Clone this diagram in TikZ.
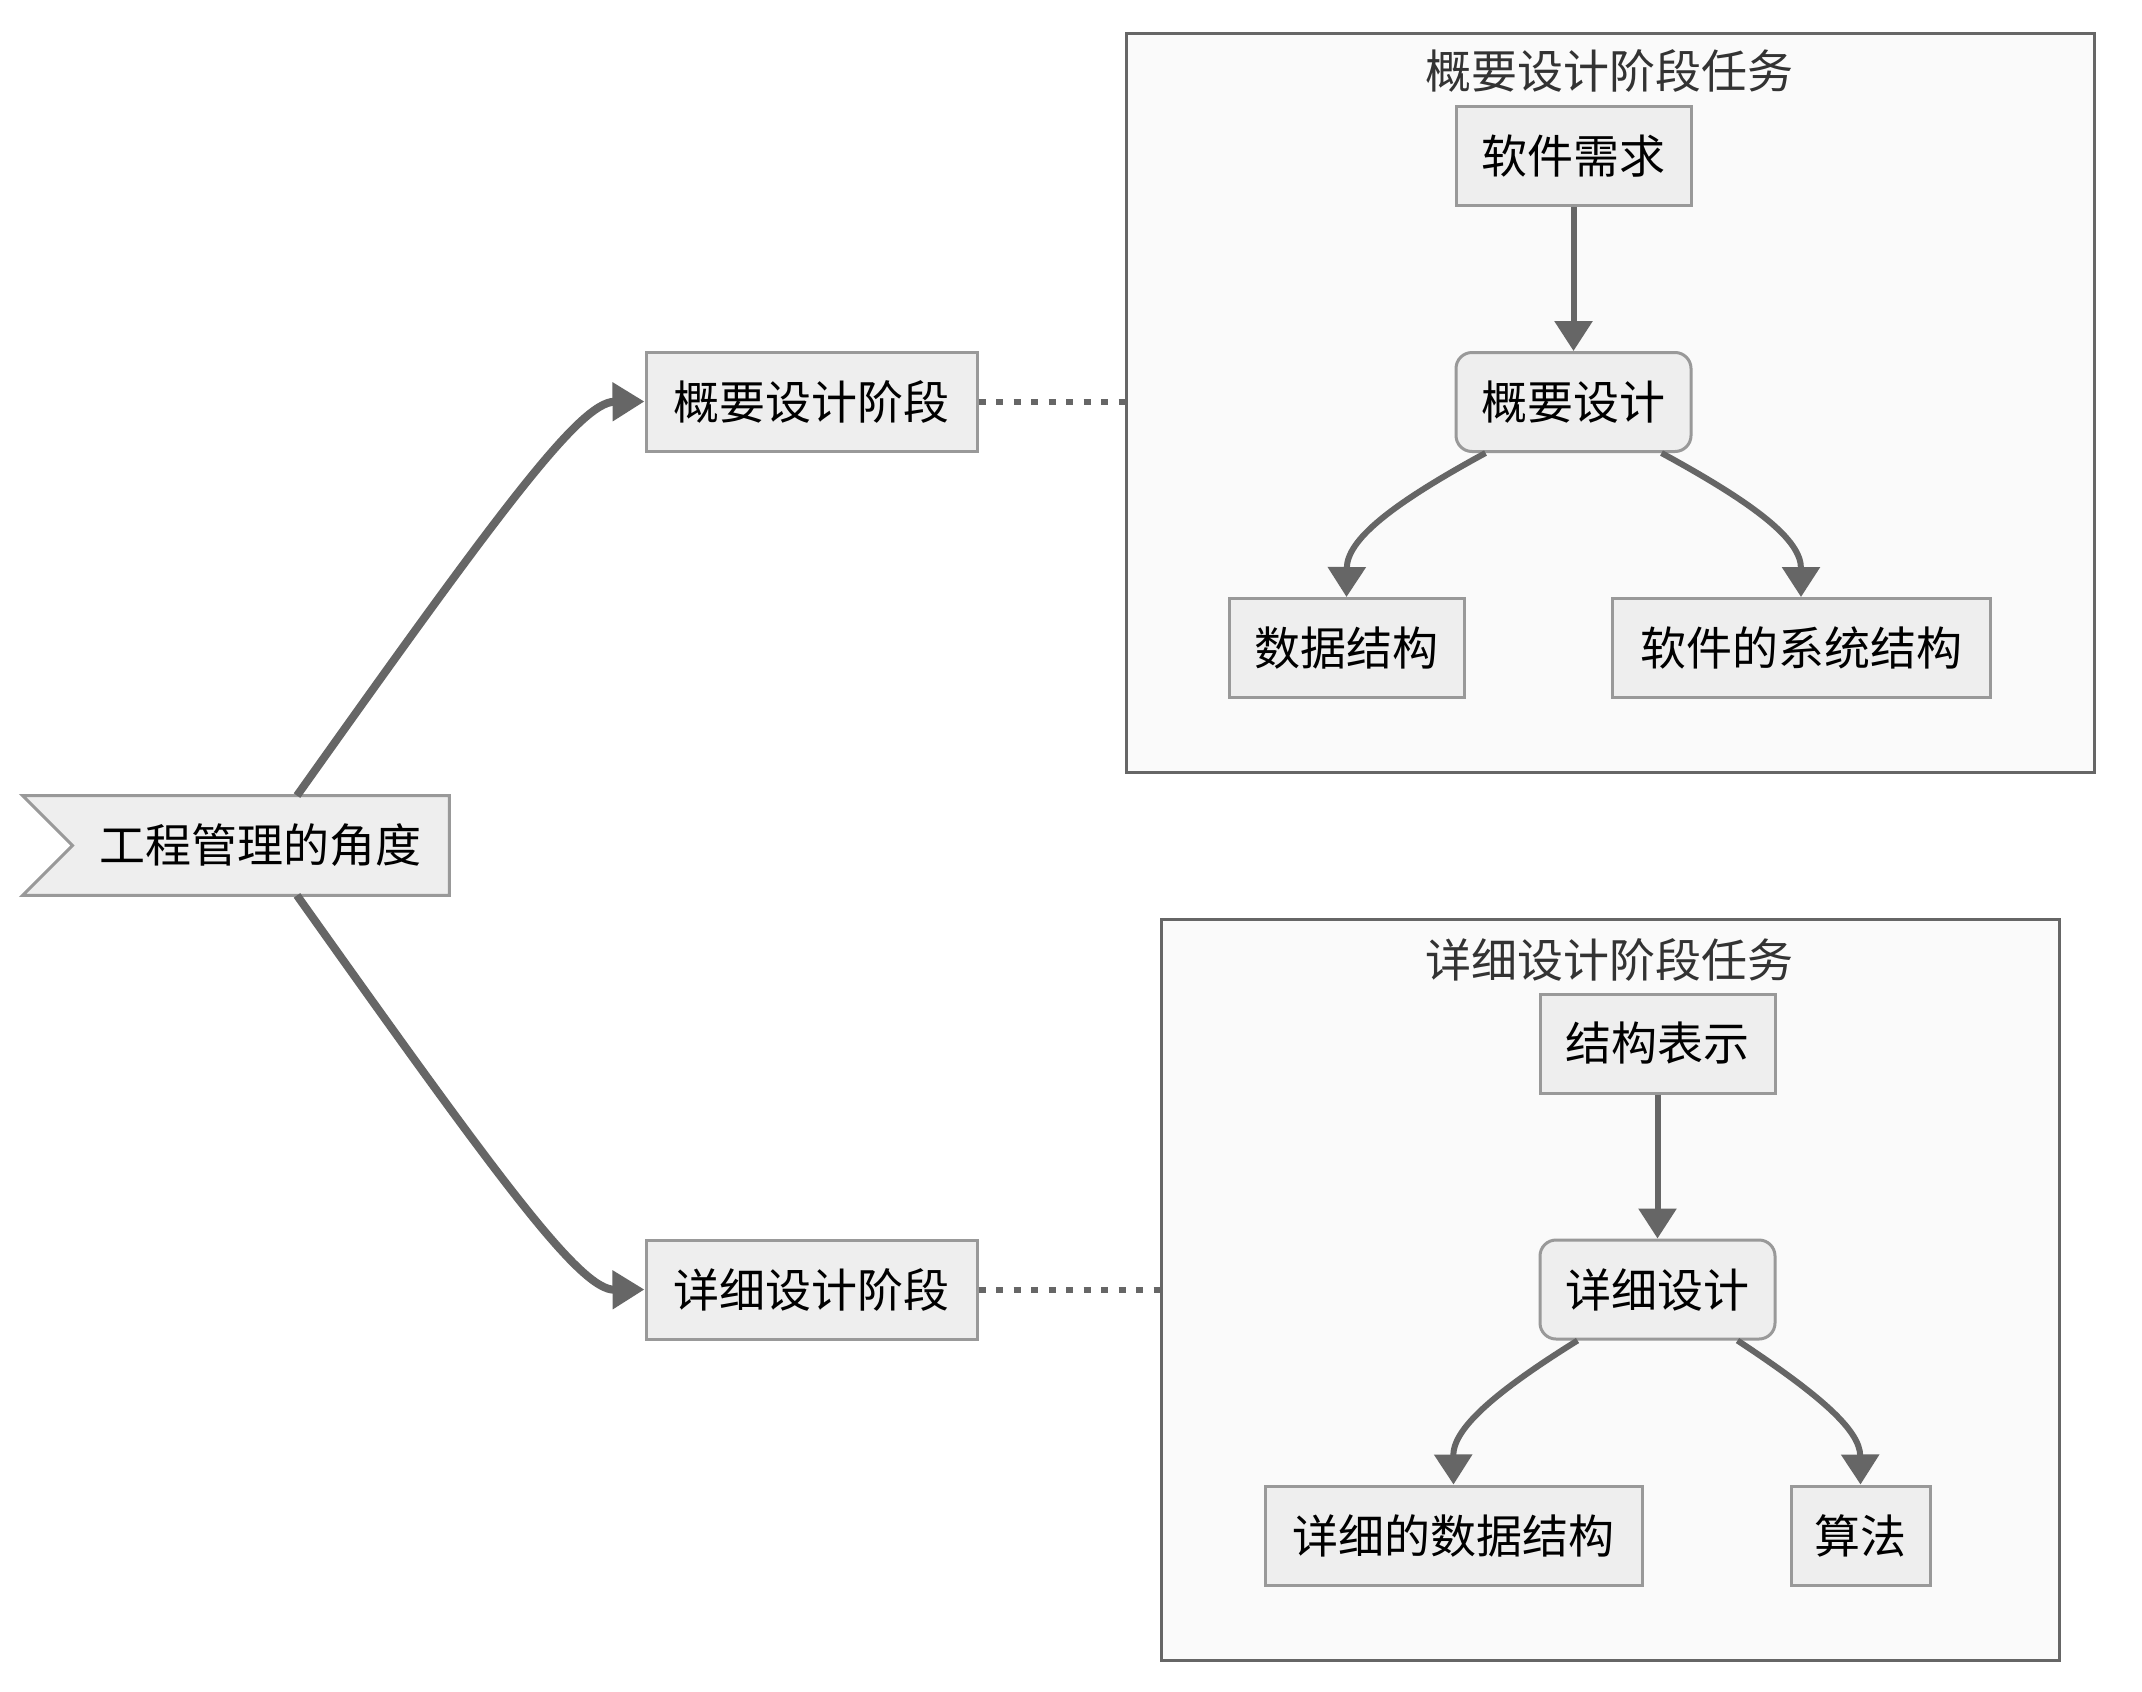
\documentclass[tikz,border=0pt]{standalone}
\usepackage{fontspec}
\setmainfont{Noto Sans CJK SC}
\usetikzlibrary{arrows.meta,positioning}
\definecolor{Edge}{HTML}{666666}
\definecolor{NodeFill}{HTML}{EEEEEE}
\definecolor{NodeLine}{HTML}{999999}
\definecolor{BoxFill}{HTML}{FAFAFA}
\definecolor{BoxLine}{HTML}{666666}
\definecolor{Title}{HTML}{333333}

\begin{document}
\begin{tikzpicture}[x=0.5pt, y=-0.5pt,
    task/.style={draw=NodeLine, fill=NodeFill, line width=1.5pt, minimum height=49.5pt,
                 font=\fontsize{23}{28}\selectfont, inner sep=0pt},
    stage/.style={task, minimum width=165.5pt},
    grp/.style={draw=BoxLine, fill=BoxFill, line width=1.5pt, inner sep=0pt},
    ttl/.style={font=\fontsize{23}{28}\selectfont, color=Title},
    ar/.style={-{Triangle[length=15pt,width=18.5pt]}, color=Edge, line width=3pt},
    mainar/.style={-{Triangle[length=16pt,width=18.5pt]}, color=Edge, line width=4pt},
    dots/.style={color=Edge, line width=3pt, dash pattern=on 3.5pt off 5.25pt}]
    \useasboundingbox[fill=white] (0,0) rectangle (2142,1692);
    % clusters
    \node[grp, minimum width=484pt, minimum height=369.5pt] (grpA) at (1610,402.5) {};
    \node[grp, minimum width=449pt, minimum height=370.5pt] (grpB) at (1610,1289.5) {};
    \node[ttl] (grpAt) at (1609,71) {概要设计阶段任务};
    \node[ttl] (grpBt) at (1609,960) {详细设计阶段任务};
    % root flag
    \node[minimum width=213pt, minimum height=49.5pt, inner sep=0pt] (root) at (236,845.5) {};
    \draw[draw=NodeLine, fill=NodeFill, line width=1.5pt] (root.north west) -- (root.north east)
      -- (root.south east) -- (root.south west) -- ([xshift=25pt]root.west) -- cycle;
    \node[font=\fontsize{23}{28}\selectfont] (rootlbl) at (260,845.5) {工程管理的角度};
    % stages
    \node[stage] (stage1) at (811.5,401.5)  {概要设计阶段};
    \node[stage] (stage2) at (811.5,1289.5) {详细设计阶段};
    % tasks, first group
    \node[task, minimum width=117.5pt] (req)  at (1573.5,156) {软件需求};
    \node[task, minimum width=117.5pt, rounded corners=8pt] (gdes) at (1573.5,402) {概要设计};
    \node[task, minimum width=117.5pt] (ds)   at (1346.5,648) {数据结构};
    \node[task, minimum width=189pt]   (arch) at (1801,648)   {软件的系统结构};
    % tasks, second group
    \node[task, minimum width=117.5pt] (rep)  at (1657.5,1043.5) {结构表示};
    \node[task, minimum width=117.5pt, rounded corners=8pt] (ddes) at (1657.5,1289.5) {详细设计};
    \node[task, minimum width=188.5pt] (dds)  at (1453.5,1535.5) {详细的数据结构};
    \node[task, minimum width=69.5pt]  (algo) at (1860.5,1535.5) {算法};
    % connectors
    \draw[mainar] ([xshift=30.5pt]root.north) .. controls (500,510) and (580,402) .. (stage1.west);
    \draw[mainar] ([xshift=30.5pt]root.south) .. controls (500,1181) and (580,1290) .. (stage2.west);
    \draw[dots] (stage1.east) -- (stage1.east -| grpA.west);
    \draw[dots] (stage2.east) -- (stage2.east -| grpB.west);
    \draw[ar] (req) -- (gdes);
    \draw[ar] ([xshift=-44pt]gdes.south) .. controls (1390,505) and (1347,540) .. (ds.north);
    \draw[ar] ([xshift=44pt]gdes.south) .. controls (1757,505) and (1801,540) .. (arch.north);
    \draw[ar] (rep) -- (ddes);
    \draw[ar] ([xshift=-40pt]ddes.south) .. controls (1490,1395) and (1453,1430) .. (dds.north);
    \draw[ar] ([xshift=40pt]ddes.south) .. controls (1820,1395) and (1860,1430) .. (algo.north);
\end{tikzpicture}
\end{document}
